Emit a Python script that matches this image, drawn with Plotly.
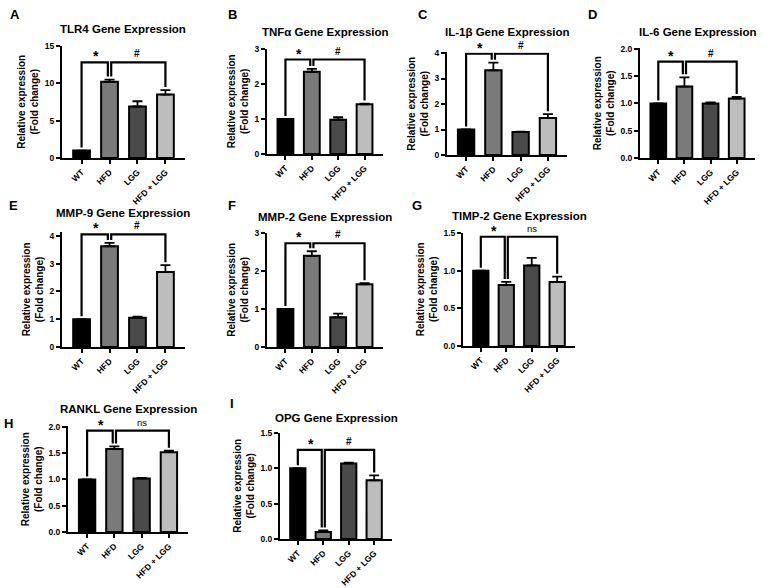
import plotly.graph_objects as go

W, H = 767, 588

categories = ["WT", "HFD", "LGG", "HFD + LGG"]
bar_colors = ["#000000", "#7a7a7a", "#4a4a4a", "#bdbdbd"]

# values (mean, upward SEM)
tlr4 = [1.0, 10.2, 6.9, 8.5]
tlr4_err = [0.0, 0.3, 0.7, 0.6]
tnfa = [1.0, 2.35, 0.98, 1.42]
tnfa_err = [0.0, 0.08, 0.07, 0.02]
il1b = [1.0, 3.32, 0.90, 1.45]
il1b_err = [0.0, 0.30, 0.02, 0.15]
il6 = [1.0, 1.31, 1.0, 1.09]
il6_err = [0.0, 0.17, 0.02, 0.03]
mmp9 = [1.0, 3.63, 1.05, 2.70]
mmp9_err = [0.0, 0.12, 0.04, 0.25]
mmp2 = [1.0, 2.40, 0.78, 1.65]
mmp2_err = [0.0, 0.12, 0.10, 0.03]
timp2 = [1.0, 0.81, 1.07, 0.85]
timp2_err = [0.0, 0.04, 0.10, 0.07]
rankl = [1.0, 1.58, 1.02, 1.52]
rankl_err = [0.0, 0.05, 0.01, 0.03]
opg = [1.0, 0.10, 1.07, 0.83]
opg_err = [0.0, 0.02, 0.01, 0.07]

titles = ["TLR4 Gene Expression", "TNFα Gene Expression", "IL-1β Gene Expression",
          "IL-6 Gene Expression", "MMP-9 Gene Expression", "MMP-2 Gene Expression",
          "TIMP-2 Gene Expression", "RANKL Gene Expression", "OPG Gene Expression"]
letters = ["A", "B", "C", "D", "E", "F", "G", "H", "I"]
values = [tlr4, tnfa, il1b, il6, mmp9, mmp2, timp2, rankl, opg]
errors = [tlr4_err, tnfa_err, il1b_err, il6_err, mmp9_err, mmp2_err, timp2_err, rankl_err, opg_err]
y_max = [15, 3, 4, 2.0, 4, 3, 1.5, 2.0, 1.5]
y_step = [5, 1, 1, 0.5, 1, 1, 0.5, 0.5, 0.5]
y_fmt = ["d", "d", "d", ".1f", "d", "d", ".1f", ".1f", ".1f"]
bracket_h = [12.8, 2.7, 3.97, 1.77, 4.06, 2.73, 1.45, 1.93, 1.26]
sig2 = ["#", "#", "#", "#", "#", "#", "ns", "ns", "#"]

# layout in pixels: left, right, zero-line y, top-tick y, range top, title y, letter x, letter y
geom = [
    (62, 185, 158, 46, 15.05, 29, 15, 15),
    (267, 383, 154, 49, 3.01, 32, 232, 15),
    (447, 567, 155, 53, 4.02, 32, 423, 15),
    (640, 755, 158, 49, 2.01, 32, 592, 15),
    (62, 185, 347, 236, 4.15, 213, 13, 205),
    (267, 383, 347, 233, 3.01, 217, 232, 205),
    (463, 575, 346, 233, 1.505, 216, 417, 205),
    (68, 188, 532, 427, 2.01, 409, 8, 423),
    (280, 392, 539, 433, 1.505, 418, 232, 403),
]

FONT = "Liberation Sans, Arial, sans-serif"
fig = go.Figure()
annotations = []
xs = [0, 1, 2, 3]

for i in range(9):
    left, right, zero, top, rtop, ty, lx, ly = geom[i]
    ymax = y_max[i]
    ppu = (zero - top) / ymax  # pixels per unit
    top_px = zero - rtop * ppu
    ax = "" if i == 0 else str(i + 1)
    xa, ya = "x" + ax, "y" + ax
    fig.add_trace(go.Bar(
        x=xs, y=values[i], xaxis=xa, yaxis=ya, width=0.6,
        marker=dict(color=bar_colors, line=dict(color="black", width=2)),
        error_y=dict(type="data", array=errors[i], arrayminus=[0] * 4, symmetric=False,
                     color="black", thickness=1.8, width=5),
        showlegend=False, hoverinfo="skip"))
    # significance brackets
    gap = 3.0 / ppu
    v, e, h = values[i], errors[i], bracket_h[i]
    end0 = v[0] + e[0] + gap
    end1 = v[1] + e[1] + gap
    end3 = v[3] + e[3] + gap
    d = 0.06
    fig.add_trace(go.Scatter(x=[0, 0, 1 - d, 1 - d], y=[end0, h, h, end1], mode="lines",
                             line=dict(color="black", width=2.2), xaxis=xa, yaxis=ya,
                             showlegend=False, hoverinfo="skip", cliponaxis=False))
    fig.add_trace(go.Scatter(x=[1 + d, 1 + d, 3, 3], y=[end1, h, h, end3], mode="lines",
                             line=dict(color="black", width=2.2), xaxis=xa, yaxis=ya,
                             showlegend=False, hoverinfo="skip", cliponaxis=False))
    annotations.append(dict(x=0.5, y=h, xref=xa, yref=ya, text="<b>*</b>", showarrow=False,
                            yanchor="bottom", yshift=-4, font=dict(size=14, family=FONT, color="black")))
    s2 = sig2[i]
    annotations.append(dict(x=2.0, y=h, xref=xa, yref=ya,
                            text=("<b>#</b>" if s2 == "#" else s2), showarrow=False,
                            yanchor="bottom", yshift=1,
                            font=dict(size=10 if s2 == "#" else 9.5, family=FONT, color="black")))
    dom_x = [left / W, right / W]
    dom_y = [1 - zero / H, 1 - top_px / H]
    fig.layout["xaxis" + ax] = dict(
        domain=dom_x, anchor=ya, range=[-0.7, 3.7], tickmode="array", tickvals=xs,
        ticktext=categories, tickangle=-45, showgrid=False, zeroline=False, automargin=False,
        showline=True, linecolor="black", linewidth=2, ticks="outside", ticklen=4,
        tickwidth=1.5, tickcolor="black",
        tickfont=dict(size=8.5, family=FONT, color="black", weight="bold"))
    ticks = []
    t = 0.0
    while t <= ymax + 1e-9:
        ticks.append(round(t, 3))
        t += y_step[i]
    fig.layout["yaxis" + ax] = dict(
        domain=dom_y, anchor=xa, range=[0, rtop], tickmode="array", tickvals=ticks,
        tickformat=y_fmt[i], showgrid=False, zeroline=False, automargin=False,
        showline=True, linecolor="black", linewidth=2, ticks="outside", ticklen=4,
        tickwidth=1.5, tickcolor="black",
        tickfont=dict(size=8.5, family=FONT, color="black", weight="bold"),
        title=dict(text="Relative expression<br>(Fold change)", standoff=4,
                   font=dict(size=10, family=FONT, color="black", weight="bold")))
    annotations.append(dict(x=(left + right) / 2 / W, y=1 - ty / H, xref="paper", yref="paper",
                            text="<b>" + titles[i] + "</b>", showarrow=False,
                            xanchor="center", yanchor="middle",
                            font=dict(size=11.5, family=FONT, color="black")))
    annotations.append(dict(x=lx / W, y=1 - ly / H, xref="paper", yref="paper",
                            text="<b>" + letters[i] + "</b>", showarrow=False,
                            xanchor="center", yanchor="middle",
                            font=dict(size=13, family=FONT, color="black")))

fig.update_layout(width=W, height=H, margin=dict(l=0, r=0, t=0, b=0),
                  paper_bgcolor="white", plot_bgcolor="white",
                  annotations=annotations, font=dict(family=FONT))
fig.write_html("out.html", config={"displayModeBar": False},
               post_script="document.body.style.margin='0px';")
